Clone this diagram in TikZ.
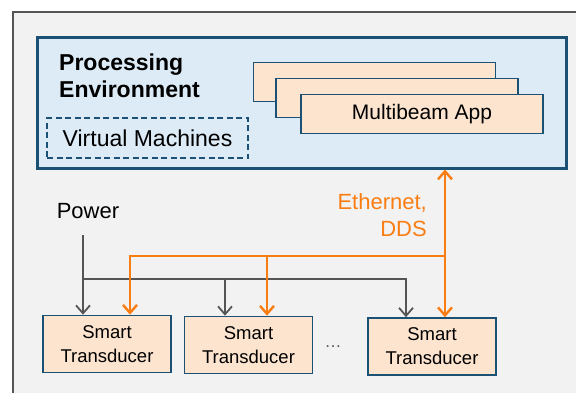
\documentclass[tikz,border=0pt]{standalone}
\usepackage{fontspec}
\setmainfont{Liberation Sans}
\usetikzlibrary{arrows.meta,positioning}
\definecolor{framegray}{HTML}{555555}
\definecolor{panelgray}{HTML}{F2F2F2}
\definecolor{envblue}{HTML}{DCEBF6}
\definecolor{edgeblue}{HTML}{1B5174}
\definecolor{appfill}{HTML}{FDE4CF}
\definecolor{netorange}{HTML}{FA7D12}
\begin{document}
\begin{tikzpicture}[x=1pt,y=-1pt,
	appbox/.style={draw=edgeblue,fill=appfill,line width=1.6pt,minimum width=242pt,minimum height=39pt,inner sep=0pt,font=\fontsize{21pt}{24pt}\selectfont},
	tdbox/.style={draw=edgeblue,fill=appfill,line width=1.6pt,minimum width=128pt,minimum height=57pt,inner sep=0pt,align=center,font=\fontsize{18.5pt}{24pt}\selectfont},
	pwr/.style={draw=framegray,line width=1.8pt,-{Straight Barb[length=8pt,width=14pt]}},
	net/.style={draw=netorange,line width=2.4pt,-{Straight Barb[length=8pt,width=14pt]}}]
		\clip (0,0) rectangle (576,392);
		\fill[white] (0,0) rectangle (576,392);
		\draw[framegray,fill=panelgray,line width=2pt] (13,12) rectangle (620,430);
		\node[draw=edgeblue,fill=envblue,line width=3pt,minimum width=529pt,minimum height=131pt] (env) at (301.5,102.5) {};
		\node[anchor=north west,inner sep=0pt,align=left,font=\bfseries\fontsize{23pt}{27pt}\selectfont] (envtitle) at (59,54) {Processing\\Environment};
		\node[draw=edgeblue,dashed,dash pattern=on 6pt off 3.5pt,line width=1.4pt,minimum width=201pt,minimum height=40pt,font=\fontsize{23pt}{26pt}\selectfont] (vm) at (147.5,138) {Virtual Machines};
		\node[appbox] (app1) at (374.5,82) {};
		\node[appbox] (app2) at (397,98) {};
		\node[appbox] (app3) at (422,114) {Multibeam App};
		\node[font=\fontsize{22pt}{26pt}\selectfont] (power) at (88,211) {Power};
		\node[anchor=north east,inner sep=0pt,align=right,text=netorange,font=\fontsize{22pt}{27pt}\selectfont] (eth) at (427,193) {Ethernet,\\DDS};
		\node[tdbox] (td1) at (107,344) {Smart\\Transducer};
		\node[tdbox] (td2) at (248.5,345) {Smart\\Transducer};
		\node[tdbox] (td3) at (432,346.5) {Smart\\Transducer};
		\node[text=framegray,font=\fontsize{17pt}{20pt}\selectfont] (dots) at (333,347) {\dots};
		\coordinate (ptop) at (83,235);
		\coordinate (pbus) at (83,279);
		\coordinate (nbus) at (445,256);
		\draw[pwr] (ptop) -- ([xshift=-24pt]td1.north);
		\draw[pwr] (pbus) -| ([xshift=-26pt]td3.north);
		\draw[pwr] ([xshift=-23.5pt]td2.north |- pbus) -- ([xshift=-23.5pt]td2.north);
		\draw[net,{Straight Barb[length=8pt,width=14pt]}-{Straight Barb[length=8pt,width=14pt]}] ([xshift=13pt]td3.north |- env.south) -- ([xshift=13pt]td3.north);
		\draw[net] (nbus) -| ([xshift=23pt]td1.north);
		\draw[net] ([xshift=18.5pt]td2.north |- nbus) -- ([xshift=18.5pt]td2.north);
\end{tikzpicture}
\end{document}
